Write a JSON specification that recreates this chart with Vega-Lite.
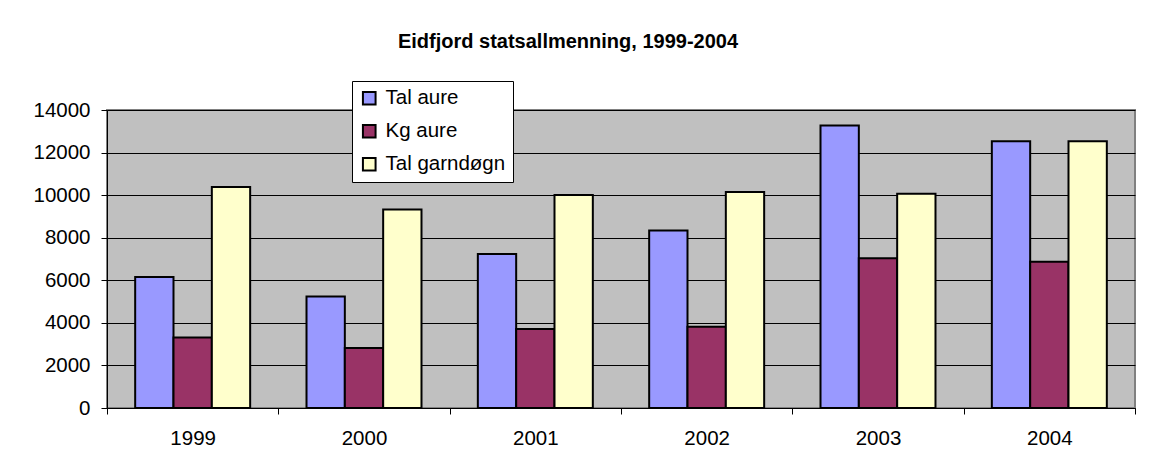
{
  "$schema": "https://vega.github.io/schema/vega-lite/v6.json",
  "autosize": {"type": "none"},
  "width": 1028,
  "height": 298,
  "padding": {"left": 107, "top": 110, "right": 17, "bottom": 61},
  "background": "white",
  "title": {
    "text": "Eidfjord statsallmenning, 1999-2004",
    "font": "Liberation Sans",
    "fontSize": 20,
    "fontWeight": "bold",
    "color": "black",
    "anchor": "middle",
    "frame": "group",
    "dx": -53,
    "offset": 29
  },
  "data": {
    "values": [
      {"year": "1999", "series": "Tal aure", "value": 6150},
      {"year": "1999", "series": "Kg aure", "value": 3310},
      {"year": "1999", "series": "Tal garndøgn", "value": 10380},
      {"year": "2000", "series": "Tal aure", "value": 5240},
      {"year": "2000", "series": "Kg aure", "value": 2820},
      {"year": "2000", "series": "Tal garndøgn", "value": 9320},
      {"year": "2001", "series": "Tal aure", "value": 7230},
      {"year": "2001", "series": "Kg aure", "value": 3710},
      {"year": "2001", "series": "Tal garndøgn", "value": 10010},
      {"year": "2002", "series": "Tal aure", "value": 8340},
      {"year": "2002", "series": "Kg aure", "value": 3820},
      {"year": "2002", "series": "Tal garndøgn", "value": 10150},
      {"year": "2003", "series": "Tal aure", "value": 13270},
      {"year": "2003", "series": "Kg aure", "value": 7030},
      {"year": "2003", "series": "Tal garndøgn", "value": 10060},
      {"year": "2004", "series": "Tal aure", "value": 12530},
      {"year": "2004", "series": "Kg aure", "value": 6870},
      {"year": "2004", "series": "Tal garndøgn", "value": 12530}
    ]
  },
  "mark": {"type": "bar", "stroke": "black", "strokeWidth": 2, "opacity": 1},
  "encoding": {
    "x": {
      "field": "year",
      "type": "nominal",
      "scale": {"paddingInner": 0, "paddingOuter": 0},
      "axis": {
        "title": null,
        "labelAngle": 0,
        "tickBand": "extent",
        "domainColor": "black",
        "domainWidth": 1,
        "tickColor": "black",
        "tickSize": 6,
        "labelFont": "Liberation Sans",
        "labelFontSize": 20.5,
        "labelColor": "black",
        "labelPadding": 14
      }
    },
    "xOffset": {
      "field": "series",
      "type": "nominal",
      "sort": ["Tal aure", "Kg aure", "Tal garndøgn"],
      "scale": {"paddingInner": 0, "paddingOuter": 0.735}
    },
    "y": {
      "field": "value",
      "type": "quantitative",
      "scale": {"domain": [0, 14000], "nice": false},
      "axis": {
        "title": null,
        "format": "d",
        "values": [0, 2000, 4000, 6000, 8000, 10000, 12000, 14000],
        "grid": true,
        "gridColor": "black",
        "gridWidth": 1,
        "gridOpacity": 1,
        "domainColor": "black",
        "domainWidth": 1,
        "tickColor": "black",
        "tickSize": 6,
        "labelFont": "Liberation Sans",
        "labelFontSize": 20.5,
        "labelColor": "black",
        "labelPadding": 11
      }
    },
    "color": {
      "field": "series",
      "type": "nominal",
      "sort": ["Tal aure", "Kg aure", "Tal garndøgn"],
      "scale": {
        "domain": ["Tal aure", "Kg aure", "Tal garndøgn"],
        "range": ["#9999FF", "#993366", "#FFFFCC"]
      },
      "legend": {
        "title": null,
        "orient": "none",
        "legendX": 245,
        "legendY": -29,
        "padding": 7,
        "strokeColor": "black",
        "fillColor": "white",
        "symbolType": "square",
        "symbolSize": 160,
        "symbolStrokeColor": "black",
        "symbolStrokeWidth": 2,
        "symbolOpacity": 1,
        "labelFont": "Liberation Sans",
        "labelFontSize": 20.5,
        "labelColor": "black",
        "labelOffset": 6,
        "rowPadding": 11
      }
    }
  },
  "config": {
    "view": {"fill": "#C0C0C0", "stroke": "#808080", "strokeWidth": 2}
  }
}
